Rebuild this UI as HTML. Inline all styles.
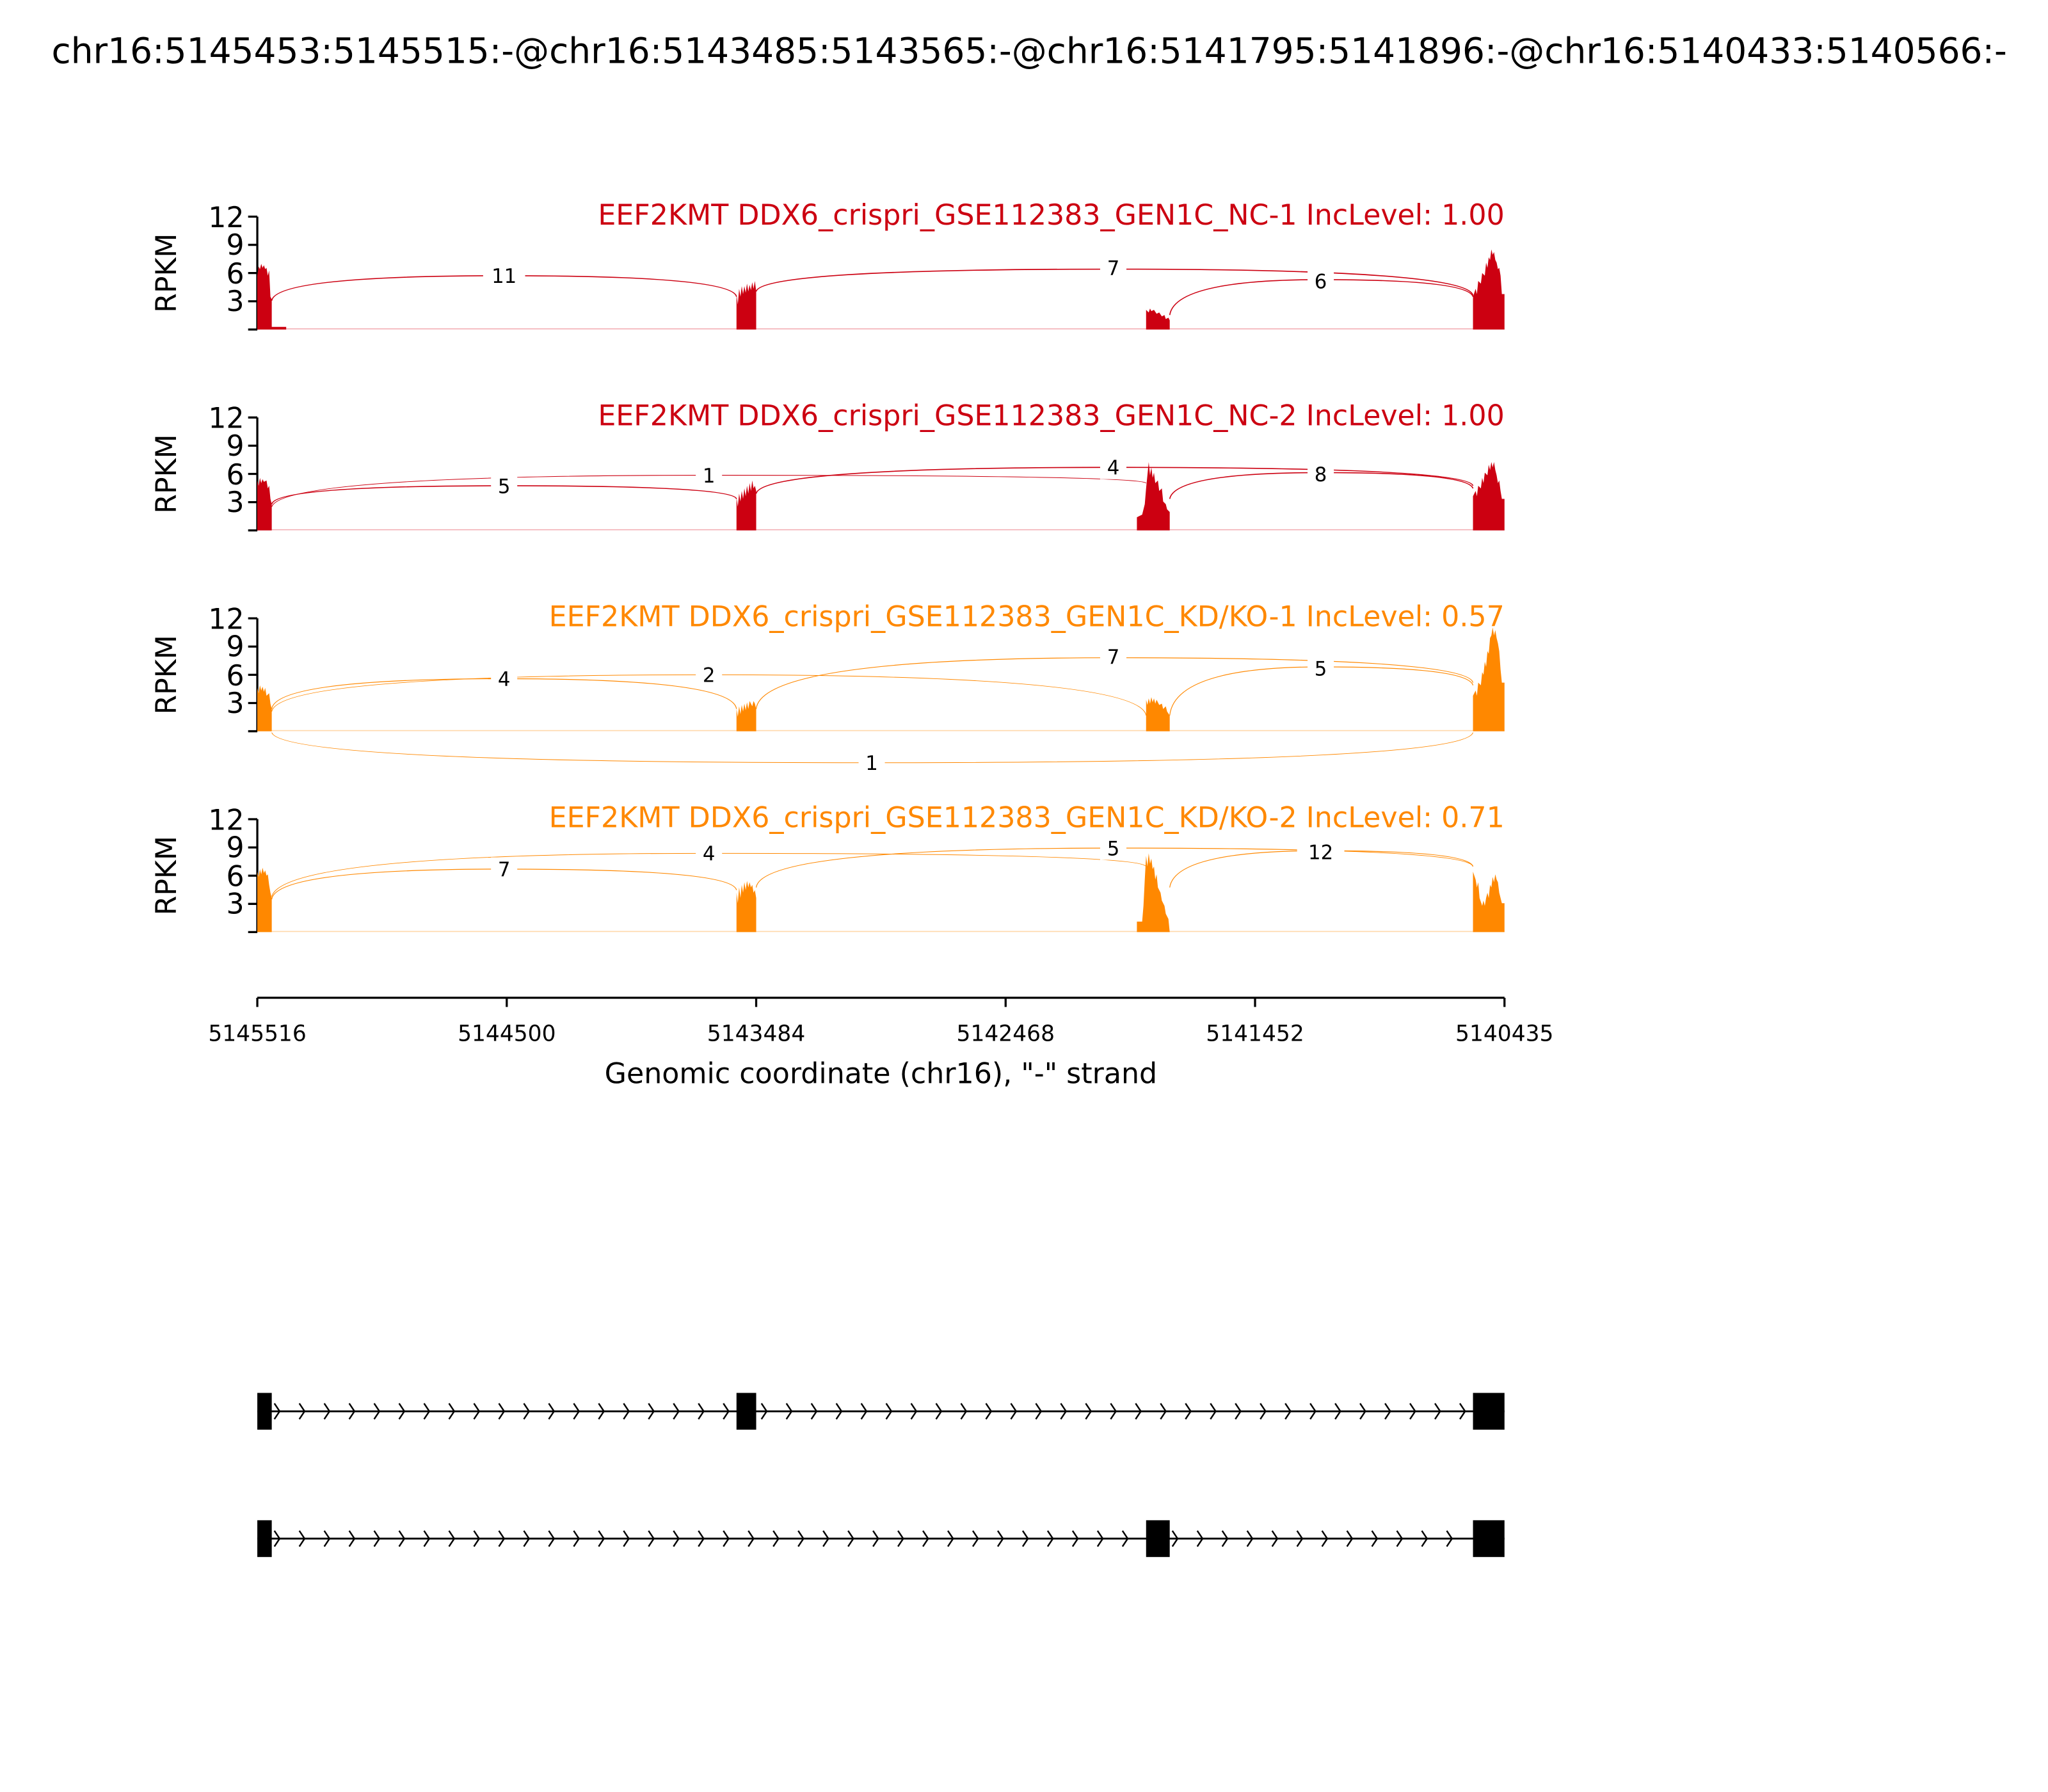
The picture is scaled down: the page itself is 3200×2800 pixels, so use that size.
<!DOCTYPE html>
<html><head><meta charset="utf-8"><style>html,body{margin:0;padding:0;background:#fff}svg{display:block}</style></head>
<body>
<svg width="3200" height="2800" viewBox="0 0 1560 1365" xmlns="http://www.w3.org/2000/svg" font-family="'DejaVu Sans','Liberation Sans',sans-serif">
<defs>
<clipPath id="cl2"><rect x="560" y="1150" width="310" height="50"/></clipPath>
</defs>
<rect width="1560" height="1365" fill="#fff"/>
<text x="784" y="48" font-size="26.8" text-anchor="middle">chr16:5145453:5145515:-@chr16:5143485:5143565:-@chr16:5141795:5141896:-@chr16:5140433:5140566:-</text>

<g stroke="#000" stroke-width="1.6" fill="none">
<path d="M196 165V251M189 165H196M189 186.5H196M189 208H196M189 229.5H196M189 251H196"/>
<path d="M196 318V404M189 318H196M189 339.5H196M189 361H196M189 382.5H196M189 404H196"/>
<path d="M196 471V557M189 471H196M189 492.5H196M189 514H196M189 535.5H196M189 557H196"/>
<path d="M196 624V710M189 624H196M189 645.5H196M189 667H196M189 688.5H196M189 710H196"/>
</g>
<g font-size="21.5" text-anchor="end">
<text x="186" y="173">12</text><text x="186" y="194">9</text><text x="186" y="216">6</text><text x="186" y="237">3</text>
<text x="186" y="326">12</text><text x="186" y="347">9</text><text x="186" y="369">6</text><text x="186" y="390">3</text>
<text x="186" y="479">12</text><text x="186" y="500">9</text><text x="186" y="522">6</text><text x="186" y="543">3</text>
<text x="186" y="632">12</text><text x="186" y="653">9</text><text x="186" y="675">6</text><text x="186" y="696">3</text>
</g>
<g font-size="21.5" text-anchor="middle">
<text transform="translate(134,208) rotate(-90)">RPKM</text>
<text transform="translate(134,361) rotate(-90)">RPKM</text>
<text transform="translate(134,514) rotate(-90)">RPKM</text>
<text transform="translate(134,667) rotate(-90)">RPKM</text>
</g>
<g font-size="21.6" text-anchor="end">
<text x="1146" y="171" fill="#CC0011">EEF2KMT DDX6_crispri_GSE112383_GEN1C_NC-1 IncLevel: 1.00</text>
<text x="1146" y="324" fill="#CC0011">EEF2KMT DDX6_crispri_GSE112383_GEN1C_NC-2 IncLevel: 1.00</text>
<text x="1146" y="477" fill="#FF8800">EEF2KMT DDX6_crispri_GSE112383_GEN1C_KD/KO-1 IncLevel: 0.57</text>
<text x="1146" y="630" fill="#FF8800">EEF2KMT DDX6_crispri_GSE112383_GEN1C_KD/KO-2 IncLevel: 0.71</text>
</g>

<!-- Panel 1 -->
<g fill="#CC0011">
<line x1="196" y1="250.5" x2="1146" y2="250.5" stroke="#f3b0b6" stroke-width="0.8"/>
<polygon points="196,251 196,210 197,203 198,205 199,201 200,204 201,202 202,205 203,204 204,210 205,206 206,226 207,228 207,249 218,249 218,251"/>
<polygon points="561,251 561,224 562,232 563,220 564,226 565,218 566,224 567,218 568,223 569,216 570,222 571,217 572,221 573,215 574,220 575,214 576,222 576,251"/>
<polygon points="873,251 873,236 875,238 876,235 877,237 879,236 881,239 883,238 885,241 887,240 888,243 890,242 891,244 891,251"/>
<polygon points="1122,251 1122,226 1124,220 1125,224 1126,214 1128,216 1129,208 1131,210 1132,200 1133,204 1134,196 1135,198 1136,190 1137,194 1138,192 1139,198 1140,200 1141,205 1142,204 1143,210 1144,224 1146,224 1146,251"/>
</g>
<g fill="none" stroke="#CC0011" stroke-width="0.8">
<path d="M207 229 Q210 210 384 210 Q558 210 561 226"/>
<path d="M576 222 Q580 205 848 205 Q1118 205 1122 225"/>
<path d="M891 240 Q895 213 1006 213 Q1118 213 1122 226"/>
</g>

<!-- Panel 2 -->
<g fill="#CC0011">
<line x1="196" y1="403.5" x2="1146" y2="403.5" stroke="#f3b0b6" stroke-width="0.8"/>
<polygon points="196,404 196,366 197,370 198,364 199,368 200,365 201,367 203,366 204,372 205,370 206,380 207,384 207,404"/>
<polygon points="561,404 561,379 562,386 563,376 564,382 565,374 566,380 567,372 568,378 569,370 570,376 571,368 572,374 573,366 574,372 575,370 576,374 576,404"/>
<polygon points="866,404 866,394 870,392 872,384 873,372 874,362 875,352 876,362 877,356 878,364 879,360 880,368 882,366 883,374 885,372 886,382 888,384 889,388 891,390 891,404"/>
<polygon points="1122,404 1122,378 1124,374 1125,378 1126,370 1128,372 1129,364 1130,368 1131,360 1133,362 1134,354 1135,358 1136,352 1137,356 1138,352 1139,358 1140,362 1141,368 1142,366 1143,374 1144,380 1146,380 1146,404"/>
</g>
<g fill="none" stroke="#CC0011" stroke-width="0.8">
<path d="M207 384 Q210 370 384 370 Q558 370 561 380"/>
<path d="M207 386 Q215 362 540 362 Q868 362 873 368" stroke-width="0.5"/>
<path d="M576 376 Q580 356 848 356 Q1118 356 1122 370"/>
<path d="M891 380 Q895 360 1006 360 Q1118 360 1122 372"/>
</g>

<!-- Panel 3 -->
<g fill="#FF8800">
<line x1="196" y1="556.5" x2="1146" y2="556.5" stroke="#ffd8aa" stroke-width="0.8"/>
<polygon points="196,557 196,524 197,528 198,522 199,526 200,523 201,527 202,524 203,530 205,528 206,536 207,540 207,557"/>
<polygon points="561,557 561,540 562,546 563,538 564,544 565,537 566,542 567,536 568,541 569,535 570,540 571,534 573,538 574,534 575,536 576,540 576,557"/>
<polygon points="873,557 873,533 874,537 875,532 876,536 877,531 878,535 879,532 880,536 881,533 883,537 885,536 886,540 888,538 889,542 891,545 891,557"/>
<polygon points="1122,557 1122,530 1124,526 1125,530 1126,520 1128,522 1129,512 1130,514 1131,504 1132,508 1133,496 1134,498 1135,486 1136,484 1137,478 1138,484 1139,480 1140,486 1141,490 1142,496 1143,510 1144,520 1146,520 1146,557"/>
</g>
<g fill="none" stroke="#FF8800" stroke-width="0.6">
<path d="M207 540 Q210 517 384 517 Q558 517 561 540"/>
<path d="M207 542 Q212 514 540 514 Q868 514 873 545" stroke-width="0.5"/>
<path d="M576 540 Q580 501 848 501 Q1118 501 1122 520"/>
<path d="M891 545 Q895 508 1006 508 Q1118 508 1122 522"/>
<path d="M207 558 Q215 581 664 581 Q1115 581 1122 558" stroke-width="0.5"/>
</g>

<!-- Panel 4 -->
<g fill="#FF8800">
<line x1="196" y1="709.5" x2="1146" y2="709.5" stroke="#ffd8aa" stroke-width="0.8"/>
<polygon points="196,710 196,664 197,668 198,662 199,666 200,661 201,665 202,663 203,667 204,666 205,674 206,680 207,684 207,710"/>
<polygon points="561,710 561,680 562,688 563,676 564,684 565,674 566,680 567,672 568,678 569,671 570,676 571,672 572,676 573,674 574,680 575,678 576,684 576,710"/>
<polygon points="866,710 866,702 870,702 871,690 872,670 873,652 874,660 875,650 876,658 877,654 878,662 879,660 880,670 881,666 882,676 884,680 885,686 887,690 888,696 890,700 891,710"/>
<polygon points="1122,710 1122,664 1124,670 1125,676 1126,672 1127,684 1129,690 1130,686 1131,690 1132,684 1133,680 1134,684 1135,674 1136,676 1137,668 1138,672 1139,666 1140,670 1141,672 1142,680 1143,684 1144,688 1146,688 1146,710"/>
</g>
<g fill="none" stroke="#FF8800" stroke-width="0.6">
<path d="M207 685 Q210 662 384 662 Q558 662 561 678"/>
<path d="M207 683 Q215 650 540 650 Q868 650 873 660" stroke-width="0.5"/>
<path d="M576 676 Q580 646 848 646 Q1118 646 1122 660"/>
<path d="M891 676 Q895 648 1006 648 Q1118 648 1122 660"/>
</g>

<!-- junction labels -->
<g font-size="15" text-anchor="middle">
<rect x="368" y="201" width="32" height="18" fill="#fff"/><text x="384" y="215.5">11</text>
<rect x="838" y="195" width="20" height="18" fill="#fff"/><text x="848" y="209.5">7</text>
<rect x="996" y="205" width="20" height="18" fill="#fff"/><text x="1006" y="219.5">6</text>

<rect x="374" y="361" width="20" height="18" fill="#fff"/><text x="384" y="375.5">5</text>
<rect x="530" y="353" width="20" height="18" fill="#fff"/><text x="540" y="367.5">1</text>
<rect x="838" y="347" width="20" height="18" fill="#fff"/><text x="848" y="361.5">4</text>
<rect x="996" y="352" width="20" height="18" fill="#fff"/><text x="1006" y="366.5">8</text>

<rect x="374" y="508" width="20" height="18" fill="#fff"/><text x="384" y="522.5">4</text>
<rect x="530" y="505" width="20" height="18" fill="#fff"/><text x="540" y="519.5">2</text>
<rect x="838" y="491" width="20" height="18" fill="#fff"/><text x="848" y="505.5">7</text>
<rect x="996" y="500" width="20" height="18" fill="#fff"/><text x="1006" y="514.5">5</text>
<rect x="654" y="572" width="20" height="18" fill="#fff"/><text x="664" y="586.5">1</text>

<rect x="374" y="653" width="20" height="18" fill="#fff"/><text x="384" y="667.5">7</text>
<rect x="530" y="641" width="20" height="18" fill="#fff"/><text x="540" y="655.5">4</text>
<rect x="838" y="637" width="20" height="18" fill="#fff"/><text x="848" y="651.5">5</text>
<rect x="988" y="640" width="36" height="18" fill="#fff"/><text x="1006" y="654.5">12</text>
</g>

<!-- x axis -->
<g stroke="#000" stroke-width="1.6">
<line x1="196" y1="760" x2="1146" y2="760"/>
<path d="M196 760V767M386 760V767M576 760V767M766 760V767M956 760V767M1146 760V767"/>
</g>
<g font-size="16.8" text-anchor="middle">
<text x="196" y="793">5145516</text><text x="386" y="793">5144500</text><text x="576" y="793">5143484</text>
<text x="766" y="793">5142468</text><text x="956" y="793">5141452</text><text x="1146" y="793">5140435</text>
</g>
<text x="671" y="825" font-size="21.6" text-anchor="middle">Genomic coordinate (chr16), "-" strand</text>

<!-- gene models -->
<line x1="196" y1="1075" x2="1146" y2="1075" stroke="#000" stroke-width="1.4"/>
<line x1="196" y1="1172" x2="1146" y2="1172" stroke="#000" stroke-width="1.4"/>
<g fill="none" stroke="#000" stroke-width="1.2">
<path id="c1" d="M209 1069 L213 1075 L209 1081 M228 1069 L232 1075 L228 1081 M247 1069 L251 1075 L247 1081 M266 1069 L270 1075 L266 1081 M285 1069 L289 1075 L285 1081 M304 1069 L308 1075 L304 1081 M323 1069 L327 1075 L323 1081 M342 1069 L346 1075 L342 1081 M361 1069 L365 1075 L361 1081 M380 1069 L384 1075 L380 1081 M399 1069 L403 1075 L399 1081 M418 1069 L422 1075 L418 1081 M437 1069 L441 1075 L437 1081 M456 1069 L460 1075 L456 1081 M475 1069 L479 1075 L475 1081 M494 1069 L498 1075 L494 1081 M513 1069 L517 1075 L513 1081 M532 1069 L536 1075 L532 1081 M551 1069 L555 1075 L551 1081"/>
<path d="M580 1069 L584 1075 L580 1081 M599 1069 L603 1075 L599 1081 M618 1069 L622 1075 L618 1081 M637 1069 L641 1075 L637 1081 M656 1069 L660 1075 L656 1081 M675 1069 L679 1075 L675 1081 M694 1069 L698 1075 L694 1081 M713 1069 L717 1075 L713 1081 M732 1069 L736 1075 L732 1081 M751 1069 L755 1075 L751 1081 M770 1069 L774 1075 L770 1081 M789 1069 L793 1075 L789 1081 M808 1069 L812 1075 L808 1081 M827 1069 L831 1075 L827 1081 M846 1069 L850 1075 L846 1081 M865 1069 L869 1075 L865 1081 M884 1069 L888 1075 L884 1081 M903 1069 L907 1075 L903 1081 M922 1069 L926 1075 L922 1081 M941 1069 L945 1075 L941 1081 M960 1069 L964 1075 L960 1081 M979 1069 L983 1075 L979 1081 M998 1069 L1002 1075 L998 1081 M1017 1069 L1021 1075 L1017 1081 M1036 1069 L1040 1075 L1036 1081 M1055 1069 L1059 1075 L1055 1081 M1074 1069 L1078 1075 L1074 1081 M1093 1069 L1097 1075 L1093 1081 M1112 1069 L1116 1075 L1112 1081"/>
<use href="#c1" transform="translate(0,97)"/>
<g clip-path="url(#cl2)"><use href="#c1" transform="translate(361,97)"/></g>
<path d="M893 1166 L897 1172 L893 1178 M912 1166 L916 1172 L912 1178 M931 1166 L935 1172 L931 1178 M950 1166 L954 1172 L950 1178 M969 1166 L973 1172 L969 1178 M988 1166 L992 1172 L988 1178 M1007 1166 L1011 1172 L1007 1178 M1026 1166 L1030 1172 L1026 1178 M1045 1166 L1049 1172 L1045 1178 M1064 1166 L1068 1172 L1064 1178 M1083 1166 L1087 1172 L1083 1178 M1102 1166 L1106 1172 L1102 1178"/>
</g>
<rect x="196" y="1061" width="11" height="28" fill="#000"/>
<rect x="561" y="1061" width="15" height="28" fill="#000"/>
<rect x="1122" y="1061" width="24" height="28" fill="#000"/>
<rect x="196" y="1158" width="11" height="28" fill="#000"/>
<rect x="873" y="1158" width="18" height="28" fill="#000"/>
<rect x="1122" y="1158" width="24" height="28" fill="#000"/>
</svg>
</body></html>
